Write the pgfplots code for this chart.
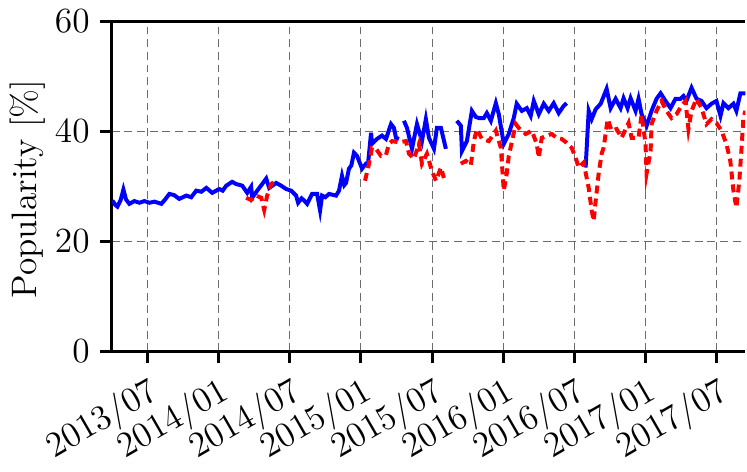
\documentclass[border=0pt]{standalone}
\usepackage{pgfplots}
\pgfplotsset{compat=1.18}
\pgfplotstableread{
m v
3.05 27.4
3.30 26.6
3.47 26.3
3.75 27.5
3.98 29.4
4.20 27.6
4.48 26.8
4.90 27.3
5.33 27.0
5.75 27.3
6.17 27.0
6.60 27.2
7.18 26.8
7.50 27.6
7.85 28.6
8.25 28.4
8.69 27.7
9.28 28.3
9.70 28.0
10.12 29.2
10.55 29.0
10.97 29.7
11.47 28.8
12.06 29.5
12.35 29.2
12.65 30.1
13.15 30.8
13.49 30.4
14.00 30.1
14.42 28.8
14.75 29.9
14.84 27.9
15.26 29.2
15.68 30.4
16.02 31.4
16.27 29.7
16.60 30.2
16.86 30.6
17.28 30.1
17.70 29.5
18.12 29.2
18.54 28.3
18.71 27.0
19.00 27.8
19.22 27.4
19.47 26.8
19.89 28.6
20.31 28.6
20.56 25.6
20.73 28.3
21.00 28.0
21.32 28.6
21.91 28.3
22.16 29.2
22.41 31.9
22.60 30.2
22.75 30.6
23.00 33.2
23.20 33.8
23.42 36.1
23.68 35.5
24.10 33.2
24.43 34.1
24.60 34.0
24.86 39.7
24.94 37.7
25.36 38.6
25.78 39.2
26.12 38.6
26.54 41.3
26.79 40.6
26.96 38.8
27.21 38.6
27.40 nan
27.63 41.9
27.89 40.6
28.31 36.8
28.73 41.3
29.15 38.2
29.48 42.2
29.74 38.8
30.16 36.8
30.41 40.6
30.75 40.6
31.17 36.8
31.60 nan
32.09 41.9
32.43 41.0
32.52 36.4
32.94 38.2
33.36 43.7
33.69 42.6
33.95 42.4
34.37 42.4
34.62 43.3
34.96 41.9
35.38 45.1
35.63 43.1
36.05 37.7
36.47 39.5
36.89 42.4
37.14 45.0
37.57 43.7
37.99 44.2
38.32 42.8
38.58 45.5
39.00 43.1
39.42 45.0
39.84 43.7
40.26 45.1
40.68 43.3
41.10 44.6
41.35 45.1
42.00 nan
42.95 33.4
43.21 43.7
43.46 42.2
43.80 44.0
44.22 45.0
44.72 47.7
45.06 44.2
45.48 45.9
45.90 44.2
46.15 46.0
46.49 44.2
46.74 46.0
47.16 43.7
47.41 45.9
47.67 43.1
48.09 41.0
48.51 43.7
48.93 45.9
49.27 46.9
49.69 45.5
50.11 44.2
50.53 45.9
50.95 45.9
51.20 46.4
51.45 45.5
51.88 47.9
52.30 45.9
52.72 45.5
53.14 44.2
53.56 45.0
53.98 45.5
54.32 42.8
54.57 45.1
54.99 44.2
55.41 45.0
55.66 43.7
56.00 46.9
56.42 46.9
}\blue
\pgfplotstableread{
m v
14.33 27.9
14.75 27.5
15.18 28.3
15.60 27.9
15.85 25.7
16.10 28.3
16.44 30.4
16.69 30.8
16.90 30.6
17.50 nan
24.35 31.0
24.69 34.1
24.94 37.0
25.28 36.8
25.70 35.5
26.12 35.7
26.37 37.7
26.62 38.2
27.21 38.0
27.80 38.2
28.06 35.9
28.47 35.0
28.90 37.7
29.15 34.1
29.57 35.9
29.99 32.8
30.33 31.0
30.75 33.4
31.00 31.5
31.60 nan
32.43 34.1
32.85 34.6
33.27 33.8
33.53 38.2
33.78 40.4
34.20 38.6
34.79 38.2
35.38 40.1
35.80 37.0
36.05 29.2
36.30 32.3
36.47 35.5
37.06 41.3
37.31 40.6
37.90 39.5
38.41 40.1
38.83 37.7
39.00 35.2
39.25 38.8
39.67 39.2
40.09 39.5
40.51 38.8
40.93 38.6
41.35 37.9
41.77 37.0
42.11 35.2
42.36 33.4
42.78 34.3
43.04 31.5
43.21 29.7
43.46 25.6
43.63 23.7
43.80 27.4
44.05 32.3
44.30 35.9
44.47 37.0
44.81 42.2
45.14 40.1
45.56 40.4
45.98 38.8
46.57 41.5
46.83 38.8
47.41 38.8
47.67 43.0
48.00 37.7
48.09 32.3
48.43 36.4
48.51 41.3
48.93 43.7
49.35 45.5
49.77 43.7
50.19 42.4
50.61 43.1
51.03 44.6
51.37 45.5
51.62 40.4
51.88 43.7
52.30 45.9
52.72 44.2
53.14 41.3
53.56 42.2
53.98 41.5
54.40 40.1
54.82 37.7
55.15 34.6
55.41 29.2
55.66 26.1
55.91 31.0
56.08 36.4
56.25 42.4
56.42 43.7
}\red
\begin{document}
\begin{tikzpicture}
\begin{axis}[name=ax, scale only axis, width=215pt, height=112pt,
  xmin=3, xmax=56.42, ymin=0, ymax=60,
  axis x line=box, axis y line=left,
  axis line style={-, line width=1.1pt},
  x axis line style={shorten <=-4pt},
  xtick={6,12,18,24,30,36,42,48,54},
  xticklabels={2013/07,2014/01,2014/07,2015/01,2015/07,2016/01,2016/07,2017/01,2017/07},
  ytick={0,20,40,60},
  tick align=outside, xtick pos=left, ytick pos=left,
  major tick length=4pt,
  every tick/.style={black, line width=1pt},
  grid=major,
  major grid style={dashed, gray!85!black, line width=0.35pt, dash pattern=on 2.7pt off 1.6pt},
  tick label style={font=\large},
  xticklabel style={rotate=30, anchor=north east, inner sep=1.5pt, yshift=-1.5pt, xshift=-0.5pt},
  ylabel={Popularity [\%]},
  every axis y label/.style={at={(rel axis cs:0,0.5)}, xshift=-28.6pt, yshift=-1pt, rotate=90, anchor=center, font=\large},
  unbounded coords=jump,
]
\addplot[blue, line width=1.35pt] table[x=m, y=v] {\blue};
\addplot[red, line width=1.35pt, dash pattern=on 2.7pt off 1.7pt] table[x=m, y=v] {\red};
\end{axis}
\path ([xshift=-37.9pt,yshift=-36.9pt]ax.south west) rectangle ([yshift=6.8pt]ax.north east);
\end{tikzpicture}
\end{document}
